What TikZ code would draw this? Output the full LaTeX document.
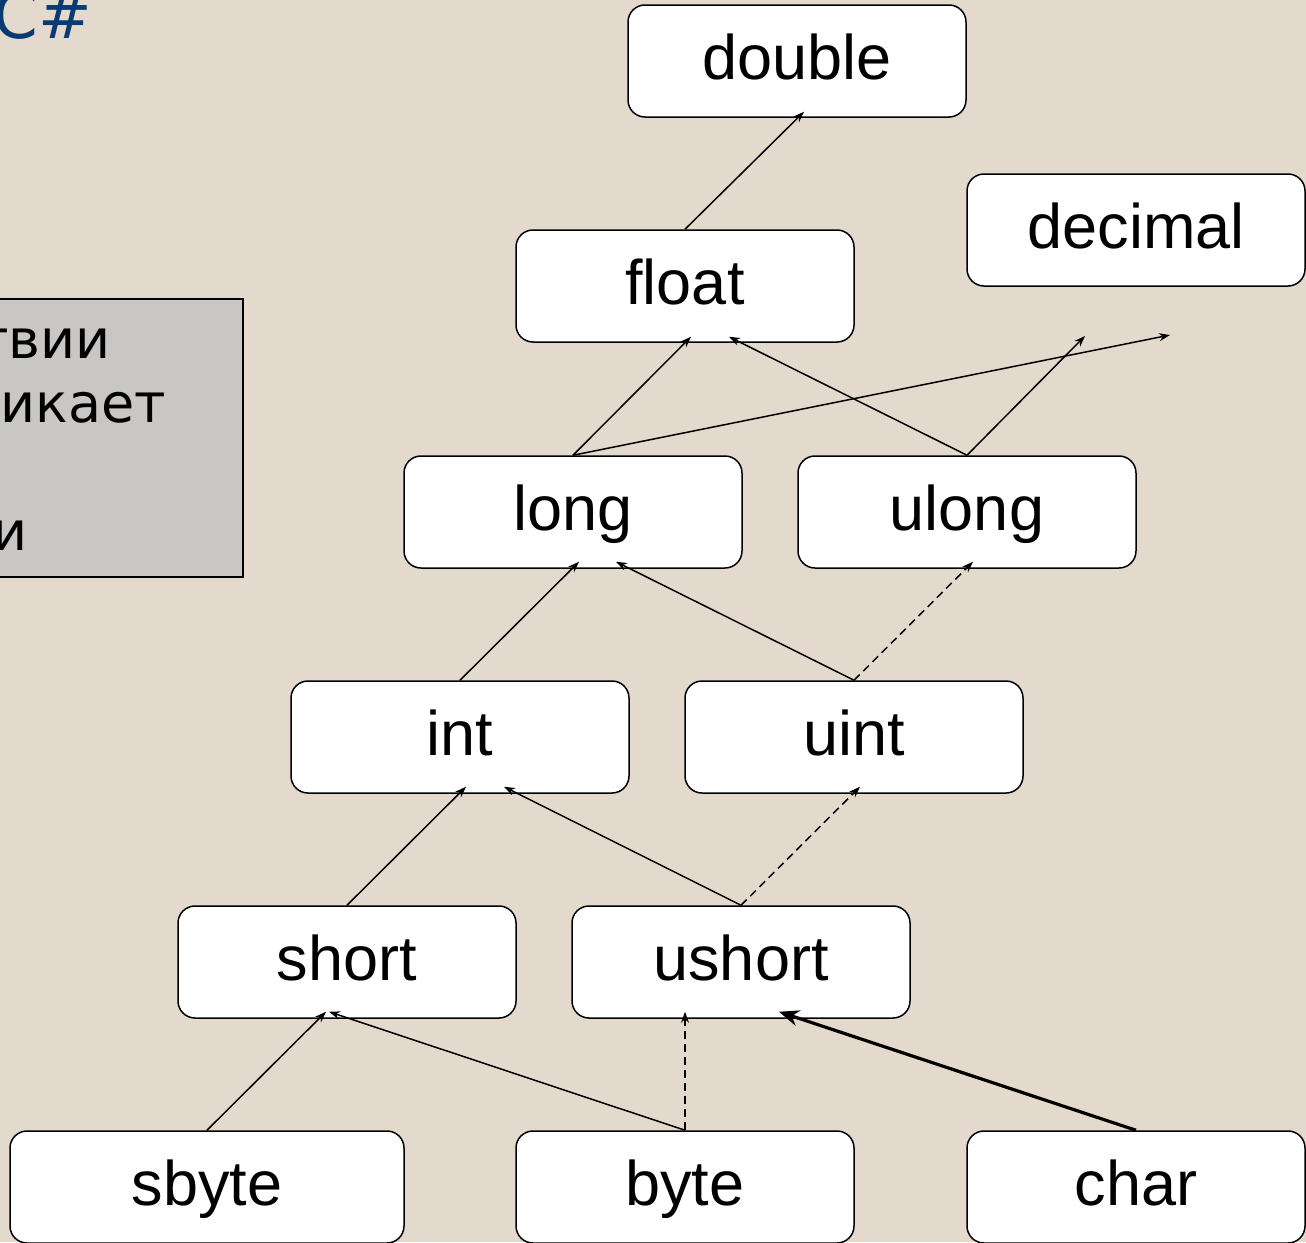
\documentclass[tikz,border=0pt]{standalone}
\usepackage{fontspec}
\setmainfont{Liberation Sans}
\newfontfamily\dejavu{DejaVu Sans}
\usetikzlibrary{calc,arrows.meta}
\definecolor{bgcol}{HTML}{E3DACD}
\definecolor{graybox}{HTML}{C9C7C3}
\definecolor{titleblue}{HTML}{0A3A72}
\tikzset{
  typebox/.style={draw=black, line width=1.5pt, fill=white, rounded corners=17pt,
    minimum width=338pt, minimum height=112pt, inner sep=0pt,
    text height=45pt, text depth=9pt,
    font=\fontsize{63}{70}\selectfont},
  conv/.style={line width=1.5pt, -{Stealth[length=11pt,width=8pt]}},
  dconv/.style={conv, dash pattern=on 8pt off 5pt},
  thickconv/.style={line width=3.2pt, -{Stealth[length=20pt,width=16pt]}},
  sidetext/.style={anchor=base east, inner sep=0pt, font=\dejavu\fontsize{54}{60}\selectfont}
}
\begin{document}
\begin{tikzpicture}[x=1pt,y=-1pt]
\useasboundingbox (0,0) rectangle (1306,1242);
\clip (0,0) rectangle (1306,1242);
\fill[bgcol] (0,0) rectangle (1306,1242);
% title fragment
\node[anchor=base east, inner sep=0pt, text=titleblue, font=\dejavu\fontsize{64}{70}\selectfont] (title) at (92,38) {C\#};
% gray side box
\draw[fill=graybox, line width=1.5pt] (-20,299) rectangle (243,577);
\node[sidetext] (t1) at (111,358) {твии};
\node[sidetext] (t2) at (166,422) {никает};
\node[sidetext] (t3) at (28,550) {и};
% type boxes
\node[typebox] (double) at (797,61) {double};
\node[typebox] (decimal) at (1136,230) {decimal};
\node[typebox] (float) at (685,286) {float};
\node[typebox] (long) at (573,512) {long};
\node[typebox] (ulong) at (967,512) {ulong};
\node[typebox] (int) at (460,737) {int};
\node[typebox] (uint) at (854,737) {uint};
\node[typebox] (short) at (347,962) {short};
\node[typebox] (ushort) at (741,962) {ushort};
\node[typebox, minimum width=394pt] (sbyte) at (207,1187) {sbyte};
\node[typebox] (byte) at (685,1187) {byte};
\node[typebox] (char) at (1136,1187) {char};
% free ends
\coordinate (decA) at (1170,335);
\coordinate (decB) at (1085,336);
% connectors
\draw[conv] (float.north) -- ($(double.south)+(7,-6)$);
\draw[conv] (long.north) -- ($(float.south)+(6,-6)$);
\draw[conv] (ulong.north) -- ($(float.south)+(44,-6)$);
\draw[conv] (long.north) -- (decA);
\draw[conv] (ulong.north) -- (decB);
\draw[conv] (int.north) -- ($(long.south)+(6,-7)$);
\draw[conv] (uint.north) -- ($(long.south)+(43,-7)$);
\draw[dconv] (uint.north) -- ($(ulong.south)+(6,-7)$);
\draw[conv] (short.north) -- ($(int.south)+(6,-7)$);
\draw[conv] (ushort.north) -- ($(int.south)+(44,-7)$);
\draw[dconv] (ushort.north) -- ($(uint.south)+(6,-7)$);
\draw[conv] (sbyte.north) -- ($(short.south)+(-21,-7)$);
\draw[conv] (byte.north) -- ($(short.south)+(-18,-7)$);
\draw[dconv] (byte.north) -- ($(ushort.south)+(-56,-7)$);
\draw[thickconv] (char.north) -- ($(ushort.south)+(38,-7)$);
\end{tikzpicture}
\end{document}
